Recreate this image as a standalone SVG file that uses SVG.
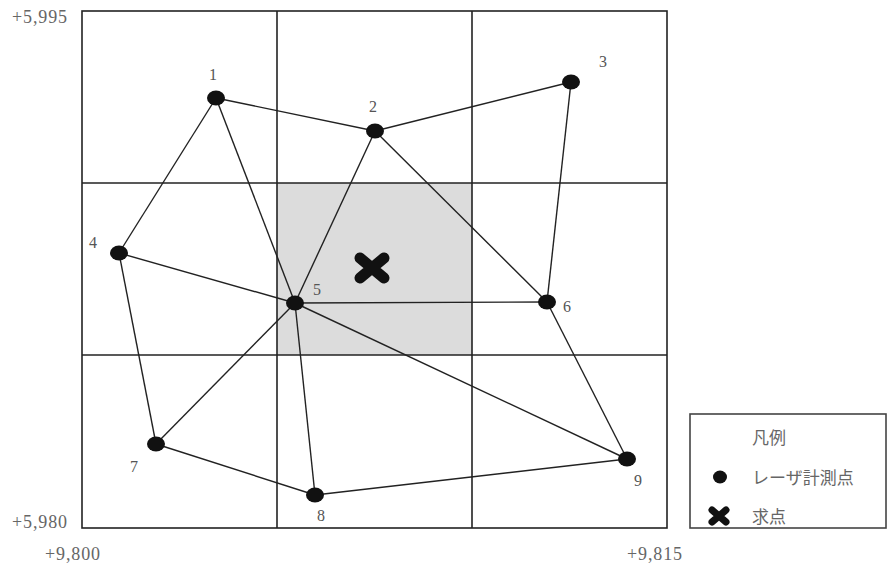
<svg xmlns="http://www.w3.org/2000/svg" width="888" height="566" viewBox="0 0 888 566">
<defs>
<style>
.grid{fill:none;stroke:#222;stroke-width:1.6}
.edge{stroke:#222;stroke-width:1.4;fill:none}
.pt{fill:#111}
.lbl{font-family:"Liberation Serif",serif;font-size:16px;fill:#555}
.axis{font-family:"Liberation Serif",serif;font-size:18px;fill:#666}
.leg{font-family:"Noto Sans CJK JP",sans-serif;font-size:17px;fill:#666}
</style>
<g id="xmark"><path d="M-12,-10 L12,10 M12,-10 L-12,10" stroke="#111" stroke-width="11" stroke-linecap="round"/></g>
</defs>
<rect x="0" y="0" width="888" height="566" fill="#fff"/>
<g id="grid">
<rect x="277" y="183" width="195" height="172" fill="#dcdcdc"/>
<rect class="grid" x="82" y="11" width="585" height="517"/>
<line class="grid" x1="277" y1="11" x2="277" y2="528"/>
<line class="grid" x1="472" y1="11" x2="472" y2="528"/>
<line class="grid" x1="82" y1="183" x2="667" y2="183"/>
<line class="grid" x1="82" y1="355" x2="667" y2="355"/>
</g>
<g id="axis-labels">
<text class="axis" x="12" y="23" textLength="55">+5,995</text>
<text class="axis" x="12" y="528" textLength="55">+5,980</text>
<text class="axis" x="45" y="560" textLength="55">+9,800</text>
<text class="axis" x="627" y="560" textLength="55">+9,815</text>
</g>
<g id="connectors">
<line class="edge" x1="216" y1="98" x2="375" y2="131"/>
<line class="edge" x1="375" y1="131" x2="571" y2="82"/>
<line class="edge" x1="216" y1="98" x2="119" y2="253"/>
<line class="edge" x1="216" y1="98" x2="295" y2="303"/>
<line class="edge" x1="375" y1="131" x2="295" y2="303"/>
<line class="edge" x1="375" y1="131" x2="547" y2="302"/>
<line class="edge" x1="571" y1="82" x2="547" y2="302"/>
<line class="edge" x1="119" y1="253" x2="295" y2="303"/>
<line class="edge" x1="119" y1="253" x2="156" y2="444"/>
<line class="edge" x1="295" y1="303" x2="547" y2="302"/>
<line class="edge" x1="295" y1="303" x2="156" y2="444"/>
<line class="edge" x1="295" y1="303" x2="315" y2="495"/>
<line class="edge" x1="295" y1="303" x2="627" y2="459"/>
<line class="edge" x1="547" y1="302" x2="627" y2="459"/>
<line class="edge" x1="156" y1="444" x2="315" y2="495"/>
<line class="edge" x1="315" y1="495" x2="627" y2="459"/>
</g>
<g id="p1"><ellipse class="pt" cx="216" cy="98" rx="9" ry="7.5"/><text class="lbl" x="209" y="80">1</text></g>
<g id="p2"><ellipse class="pt" cx="375" cy="131" rx="9" ry="7.5"/><text class="lbl" x="369" y="112">2</text></g>
<g id="p3"><ellipse class="pt" cx="571" cy="82" rx="9" ry="7.5"/><text class="lbl" x="599" y="67">3</text></g>
<g id="p4"><ellipse class="pt" cx="119" cy="253" rx="9" ry="7.5"/><text class="lbl" x="89" y="248">4</text></g>
<g id="p5"><ellipse class="pt" cx="295" cy="303" rx="9" ry="7.5"/><text class="lbl" x="313" y="295">5</text></g>
<g id="p6"><ellipse class="pt" cx="547" cy="302" rx="9" ry="7.5"/><text class="lbl" x="563" y="312">6</text></g>
<g id="p7"><ellipse class="pt" cx="156" cy="444" rx="9" ry="7.5"/><text class="lbl" x="130" y="472">7</text></g>
<g id="p8"><ellipse class="pt" cx="315" cy="495" rx="9" ry="7.5"/><text class="lbl" x="317" y="521">8</text></g>
<g id="p9"><ellipse class="pt" cx="627" cy="459" rx="9" ry="7.5"/><text class="lbl" x="634" y="486">9</text></g>
<g id="target"><use href="#xmark" x="372" y="268"/></g>
<g id="legend">
<rect x="690" y="414" width="196" height="114" fill="#fff" stroke="#444" stroke-width="1.6"/>
<text class="leg" x="752" y="444">凡例</text>
<ellipse class="pt" cx="720" cy="477" rx="7" ry="6.5"/>
<text class="leg" x="752" y="484">レーザ計測点</text>
<path d="M-7,-6 L7,6 M7,-6 L-7,6" transform="translate(719,516)" stroke="#111" stroke-width="7" stroke-linecap="round"/>
<text class="leg" x="752" y="523">求点</text>
</g>
</svg>
